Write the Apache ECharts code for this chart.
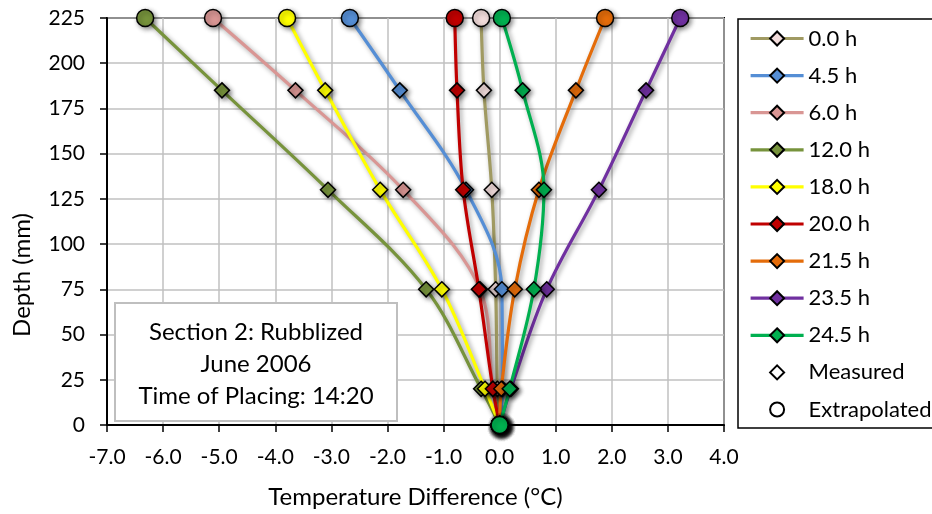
<!DOCTYPE html>
<html><head><meta charset="utf-8">
<script src="https://cdn.jsdelivr.net/npm/echarts@6/dist/echarts.min.js"></script>
<style>html,body{margin:0;padding:0;background:#fff}#c{width:932px;height:514px}</style>
</head><body><div id="c"></div>
<script>
// Depth (mm) of each reading
const depths = [0, 20, 75, 130, 185, 225];
// Temperature difference (°C) per elapsed time
const t0_0  = [0, -0.04, -0.07, -0.14, -0.28, -0.33];
const t4_5  = [0, 0.05, 0.04, -0.60, -1.78, -2.67];
const t6_0  = [0, -0.12, -0.35, -1.72, -3.64, -5.11];
const t12_0 = [0, -0.33, -1.31, -3.06, -4.95, -6.32];
const t18_0 = [0, -0.26, -1.03, -2.13, -3.11, -3.79];
const t20_0 = [0, -0.12, -0.37, -0.65, -0.76, -0.80];
const t21_5 = [0, 0.03, 0.27, 0.70, 1.36, 1.88];
const t23_5 = [0, 0.20, 0.84, 1.77, 2.61, 3.22];
const t24_5 = [0, 0.18, 0.61, 0.79, 0.41, 0.04];
const seriesNames = ['0.0 h','4.5 h','6.0 h','12.0 h','18.0 h','20.0 h','21.5 h','23.5 h','24.5 h'];
const seriesValues = [t0_0, t4_5, t6_0, t12_0, t18_0, t20_0, t21_5, t23_5, t24_5];
const extrapolatedDepths = [0, 225];
const xTickLabels = ['-7.0','-6.0','-5.0','-4.0','-3.0','-2.0','-1.0','0.0','1.0','2.0','3.0','4.0'];
const boxLines = ['Section 2: Rubblized', 'June 2006', 'Time of Placing: 14:20'];

const lineColors = ['#A09A62','#558ED5','#D99694','#77933C','#FFFF00','#C00000','#E46C0A','#7030A0','#00B050'];
const fillColors = ['#F2DCDB','#558ED5','#D99694','#77933C','#FFFF00','#C00000','#E46C0A','#7030A0','#00B050'];
const FONT = 'Lato';

const series = seriesNames.map((name, i) => ({
  name, type: 'line', smooth: 0.35,
  symbol: 'diamond', symbolSize: 15,
  lineStyle: {color: lineColors[i], width: 3.2, shadowColor: 'rgba(0,0,0,0.4)', shadowBlur: 5, shadowOffsetX: 2, shadowOffsetY: 2},
  itemStyle: {color: fillColors[i], borderColor: '#000', borderWidth: 1.5, shadowColor: 'rgba(0,0,0,0.45)', shadowBlur: 5, shadowOffsetX: 2, shadowOffsetY: 2},
  data: depths.map((d, k) => {
    const item = {value: [seriesValues[i][k], d]};
    if (extrapolatedDepths.includes(d)) { item.symbol = 'circle'; item.symbolSize = 17; }
    return item;
  })
}));
series.push({name: 'Measured', type: 'line', data: [], symbol: 'diamond',
  lineStyle: {opacity: 0, width: 0}, itemStyle: {color: '#fff', borderColor: '#000', borderWidth: 1.5}});
series.push({name: 'Extrapolated', type: 'line', data: [], symbol: 'circle',
  lineStyle: {opacity: 0, width: 0}, itemStyle: {color: '#fff', borderColor: '#000', borderWidth: 1.5}});

const chart = echarts.init(document.getElementById('c'), null, {renderer: 'canvas'});
chart.setOption({
  animation: false,
  backgroundColor: '#fff',
  textStyle: {fontFamily: FONT},
  grid: {left: 107, right: 208, top: 18, bottom: 86, show: true, borderColor: '#000', borderWidth: 2, containLabel: false},
  xAxis: {
    type: 'value', min: -7, max: 4, interval: 1,
    name: 'Temperature Difference (°C)', nameLocation: 'middle', nameGap: 60,
    nameTextStyle: {fontFamily: FONT, fontSize: 24, color: '#000'},
    axisLine: {show: true, onZero: false, lineStyle: {color: '#000', width: 2}},
    axisTick: {show: true, length: 7, lineStyle: {color: '#000', width: 1.5}},
    axisLabel: {margin: 22, fontFamily: FONT, fontSize: 21, color: '#000',
      formatter: v => xTickLabels[Math.round(v + 7)]},
    splitLine: {show: true, lineStyle: {color: '#C0C0C0', width: 1.5}}
  },
  yAxis: {
    type: 'value', min: 0, max: 225, interval: 25,
    axisLine: {show: true, onZero: false, lineStyle: {color: '#000', width: 2}},
    axisTick: {show: true, length: 7, lineStyle: {color: '#000', width: 1.5}},
    axisLabel: {margin: 22, fontFamily: FONT, fontSize: 21, color: '#000'},
    splitLine: {show: true, lineStyle: {color: '#C0C0C0', width: 1.5}}
  },
  legend: {
    orient: 'vertical', left: 749, top: 27.5, padding: 0,
    itemWidth: 53, itemHeight: 17.5, itemGap: 15.1,
    lineStyle: {width: 3.2},
    textStyle: {fontFamily: FONT, fontSize: 22, color: '#000', lineHeight: 18},
    data: seriesNames.concat(['Measured', 'Extrapolated'])
  },
  graphic: [
    {type: 'rect', shape: {x: 738, y: 19, width: 210, height: 409}, style: {fill: 'none', stroke: '#000', lineWidth: 1.5}, z: 1},
    {type: 'rect', shape: {x: 115, y: 303, width: 282, height: 118}, style: {fill: '#fff', stroke: '#BFBFBF', lineWidth: 2}, z: 50},
    {type: 'text', x: 256, y: 332, z: 51, style: {text: boxLines[0], font: '24px ' + FONT, fill: '#000', align: 'center', verticalAlign: 'middle'}},
    {type: 'text', x: 256, y: 364, z: 51, style: {text: boxLines[1], font: '24px ' + FONT, fill: '#000', align: 'center', verticalAlign: 'middle'}},
    {type: 'text', x: 256, y: 396, z: 51, style: {text: boxLines[2], font: '24px ' + FONT, fill: '#000', align: 'center', verticalAlign: 'middle'}},
    {type: 'text', x: 22, y: 275, rotation: Math.PI / 2, z: 51, style: {text: 'Depth (mm)', font: '24px ' + FONT, fill: '#000', align: 'center', verticalAlign: 'middle'}}
  ],
  series
});
</script></body></html>
